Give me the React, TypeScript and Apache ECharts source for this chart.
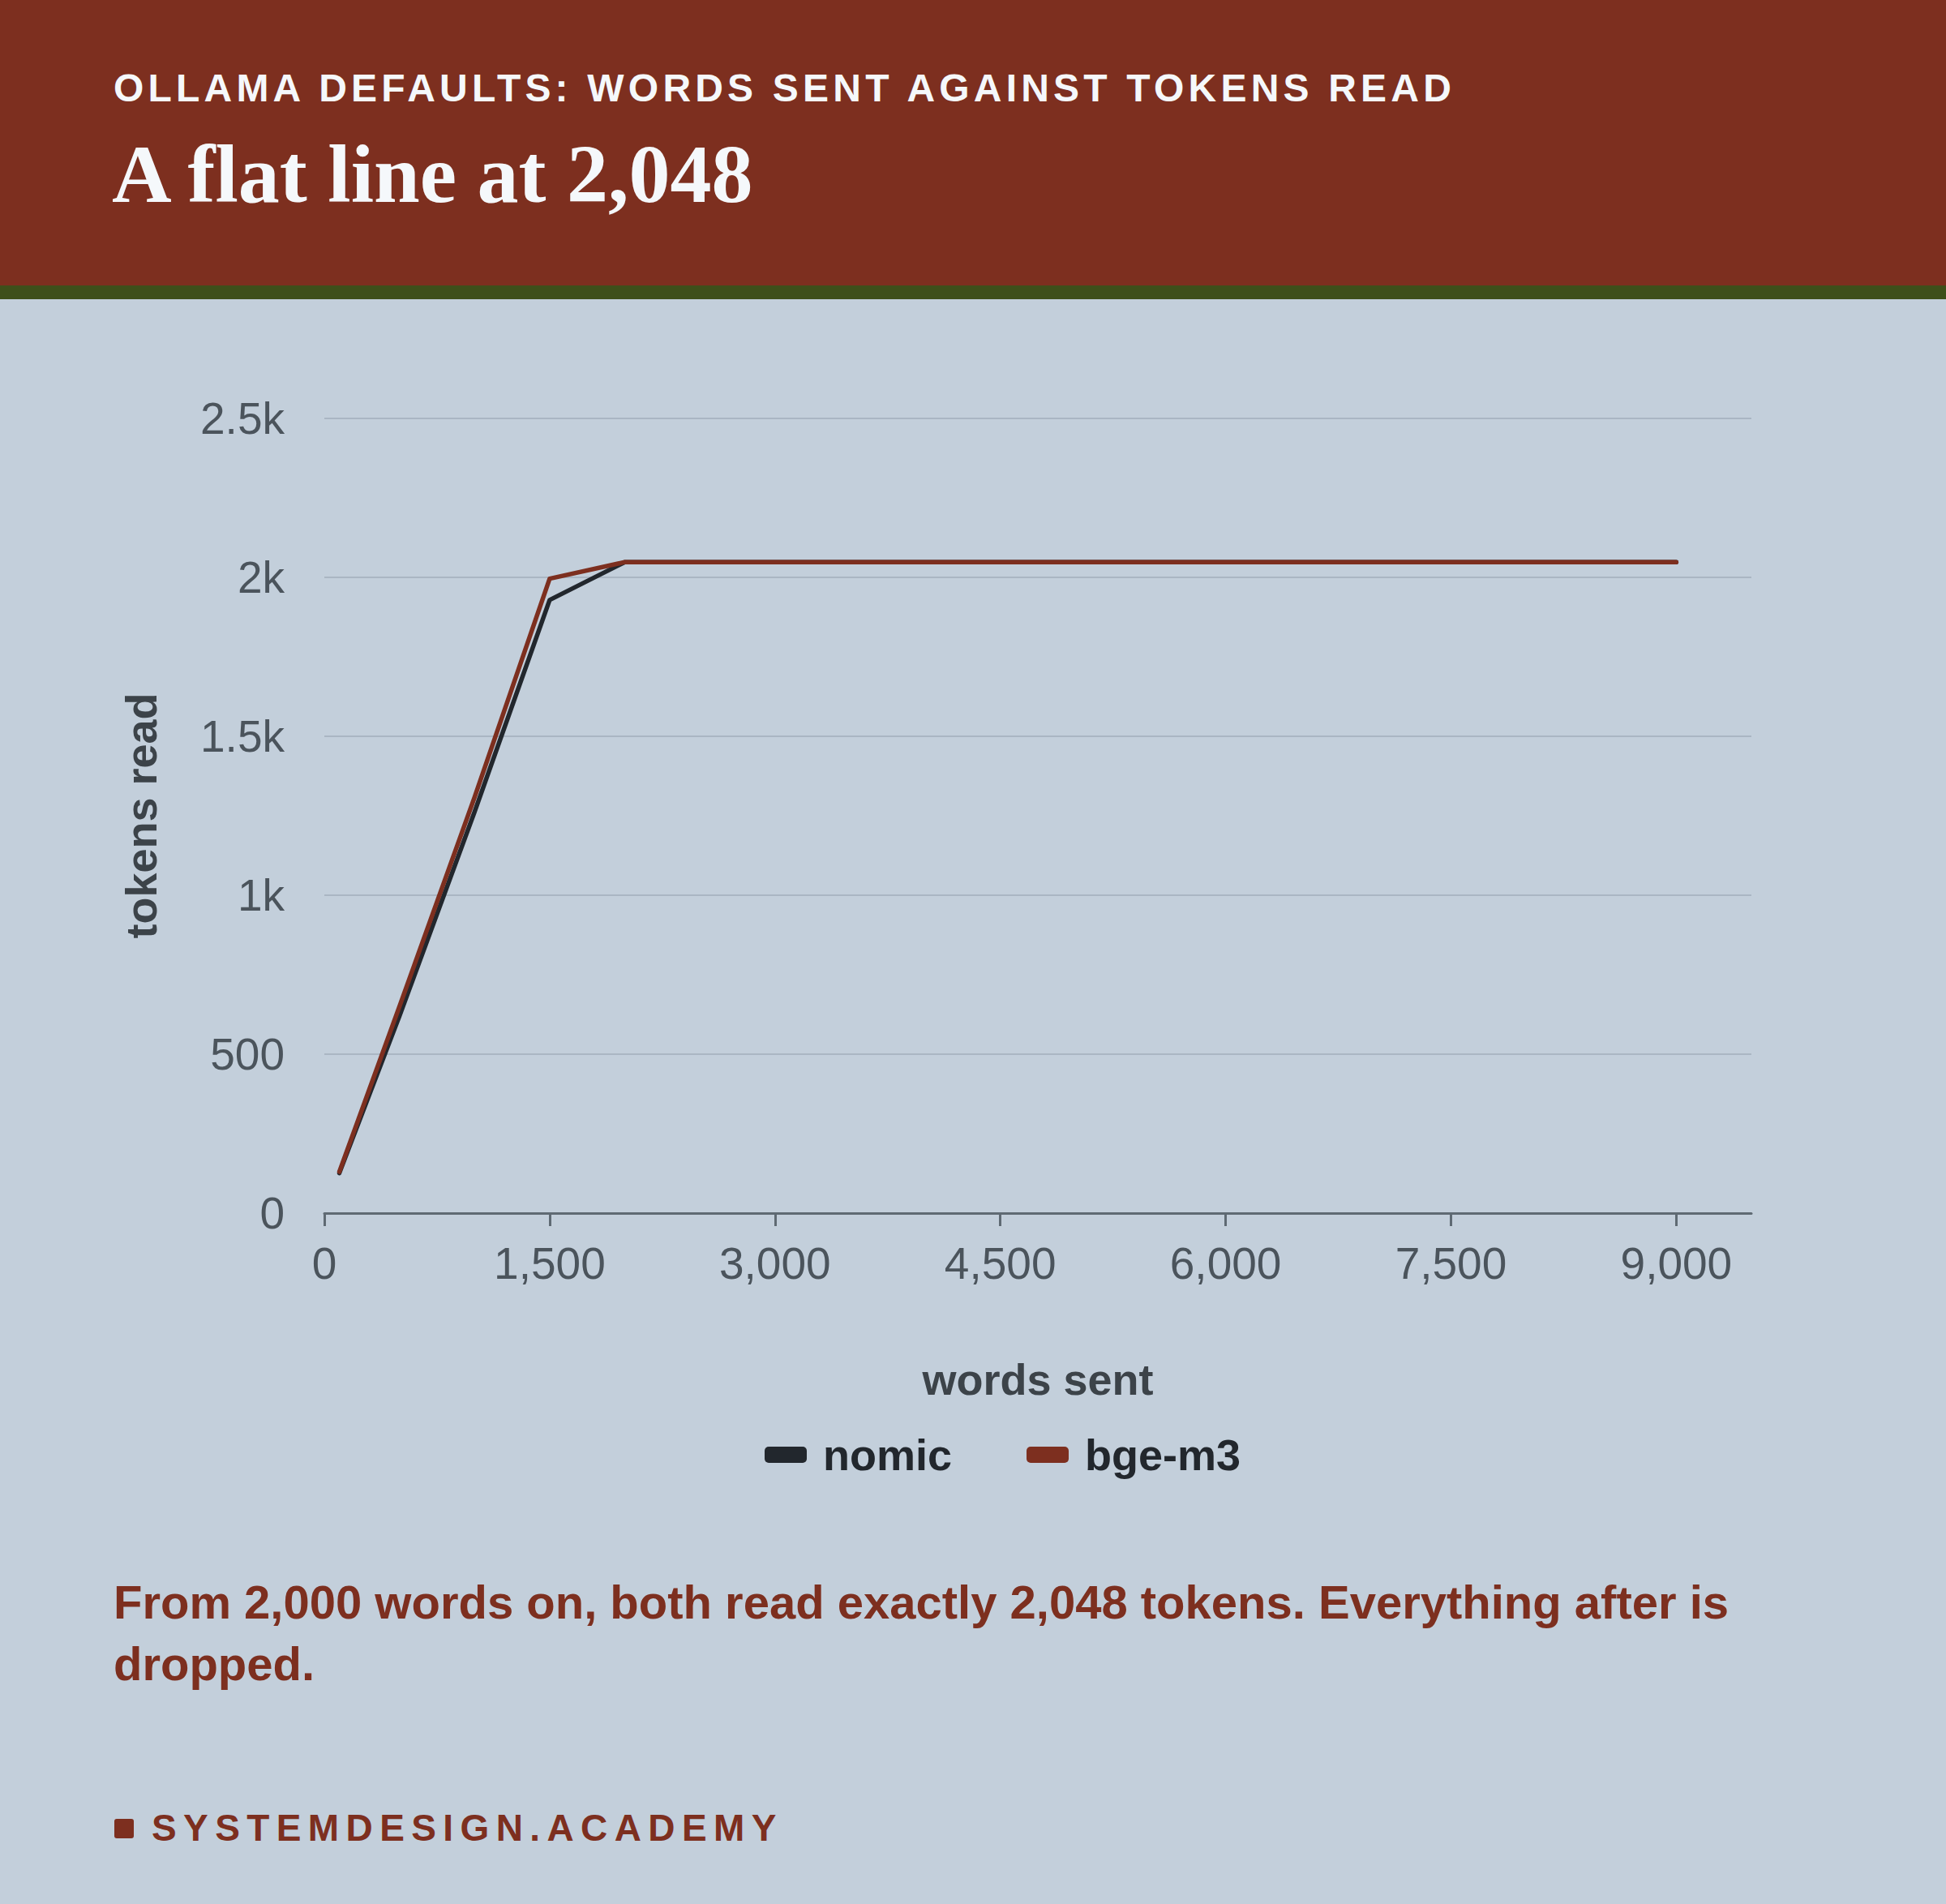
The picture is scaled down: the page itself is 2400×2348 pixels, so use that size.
import { useEffect, useRef } from 'react';
import * as echarts from 'echarts';

// words sent per request
const wordsSent = [100, 500, 1000, 1500, 2000, 3000, 5000, 7000, 9000];
// tokens read back by each model
const nomicTokens = [126, 620, 1262, 1929, 2048, 2048, 2048, 2048, 2048];
const bgeTokens = [130, 650, 1308, 1996, 2048, 2048, 2048, 2048, 2048];
const seriesNames = ['nomic', 'bge-m3'];
const xTicks = [0, 1500, 3000, 4500, 6000, 7500, 9000];

const RUST = '#7d2f1f';
const INK = '#22272d';
const BG = '#c3cfdb';
const SANS = '"Liberation Sans", Arial, sans-serif';

function TokenChart() {
  const chartRef = useRef<HTMLDivElement>(null);

  useEffect(() => {
    if (!chartRef.current) return;
    const chart = echarts.init(chartRef.current, null, { renderer: 'svg' });

    const option: echarts.EChartsOption = {
      animation: false,
      backgroundColor: 'transparent',
      textStyle: { fontFamily: SANS },
      grid: { top: 147, left: 400, right: 240, bottom: 413 },
      legend: {
        data: seriesNames,
        left: 938,
        top: 1393,
        icon: 'roundRect',
        itemWidth: 52,
        itemHeight: 20,
        itemGap: 92,
        textStyle: {
          color: INK,
          fontSize: 54,
          fontWeight: 'bold',
          fontFamily: SANS,
          padding: [0, 0, 16, 15],
        },
      },
      xAxis: {
        type: 'value',
        min: 0,
        max: 9500,
        interval: 1500,
        name: 'words sent',
        nameLocation: 'middle',
        nameGap: 178,
        nameTextStyle: { color: '#3c4349', fontSize: 54, fontWeight: 'bold', fontFamily: SANS },
        axisLine: { show: true, lineStyle: { color: '#5f6a73', width: 3 } },
        axisTick: {
          show: true,
          length: 16,
          customValues: xTicks,
          lineStyle: { color: '#5f6a73', width: 3 },
        },
        axisLabel: {
          color: '#4b545c',
          fontSize: 55,
          margin: 34,
          customValues: xTicks,
          formatter: (v: number) => v.toLocaleString('en-US'),
        },
        splitLine: { show: false },
      },
      yAxis: {
        type: 'value',
        min: 0,
        max: 2500,
        interval: 500,
        name: 'tokens read',
        nameLocation: 'middle',
        nameGap: 199,
        nameTextStyle: { color: '#3c4349', fontSize: 54, fontWeight: 'bold', fontFamily: SANS },
        axisLine: { show: false },
        axisTick: { show: false },
        axisLabel: {
          color: '#4b545c',
          fontSize: 55,
          margin: 49,
          formatter: (v: number) => (v >= 1000 ? `${v / 1000}k` : `${v}`),
        },
        splitLine: { lineStyle: { color: '#aab6c3', width: 2 } },
      },
      series: [
        {
          name: seriesNames[0],
          type: 'line',
          symbol: 'none',
          data: wordsSent.map((w, i) => [w, nomicTokens[i]]),
          lineStyle: { color: INK, width: 5.5, cap: 'round', join: 'round' },
          itemStyle: { color: INK },
        },
        {
          name: seriesNames[1],
          type: 'line',
          symbol: 'none',
          data: wordsSent.map((w, i) => [w, bgeTokens[i]]),
          lineStyle: { color: RUST, width: 5.5, cap: 'round', join: 'round' },
          itemStyle: { color: RUST },
        },
      ],
    };

    chart.setOption(option);
    return () => {
      chart.dispose();
    };
  }, []);

  return (
    <div
      ref={chartRef}
      style={{ position: 'absolute', left: 0, top: 369, width: 2400, height: 1540 }}
    />
  );
}

export default function App() {
  return (
    <div
      style={{
        position: 'absolute',
        left: 0,
        top: 0,
        width: 2400,
        height: 2348,
        background: BG,
        overflow: 'hidden',
        fontFamily: SANS,
      }}
    >
      <div style={{ position: 'absolute', left: 0, top: 0, width: 2400, height: 352, background: RUST }} />
      <div style={{ position: 'absolute', left: 0, top: 352, width: 2400, height: 17, background: '#3e4f1a' }} />
      <div
        style={{
          position: 'absolute',
          left: 140,
          top: 85,
          fontSize: 48,
          lineHeight: '48px',
          fontWeight: 'bold',
          letterSpacing: '5.2px',
          color: '#f5f8fb',
          whiteSpace: 'nowrap',
        }}
      >
        OLLAMA DEFAULTS: WORDS SENT AGAINST TOKENS READ
      </div>
      <div
        style={{
          position: 'absolute',
          left: 138,
          top: 164,
          fontFamily: '"Liberation Serif", "Times New Roman", serif',
          fontSize: 102,
          lineHeight: '102px',
          fontWeight: 'bold',
          color: '#f5f8fb',
          whiteSpace: 'nowrap',
        }}
      >
        A flat line at 2,048
      </div>

      <TokenChart />

      <div
        style={{
          position: 'absolute',
          left: 140,
          top: 1938,
          width: 2120,
          fontSize: 58,
          lineHeight: '76px',
          fontWeight: 'bold',
          color: RUST,
        }}
      >
        From 2,000 words on, both read exactly 2,048 tokens. Everything after is dropped.
      </div>

      <div
        style={{
          position: 'absolute',
          left: 141,
          top: 2243,
          width: 24,
          height: 24,
          borderRadius: 3,
          background: RUST,
        }}
      />
      <div
        style={{
          position: 'absolute',
          left: 187,
          top: 2231,
          fontSize: 46,
          lineHeight: '46px',
          fontWeight: 'bold',
          letterSpacing: '8.4px',
          color: RUST,
          whiteSpace: 'nowrap',
        }}
      >
        SYSTEMDESIGN.ACADEMY
      </div>
    </div>
  );
}
